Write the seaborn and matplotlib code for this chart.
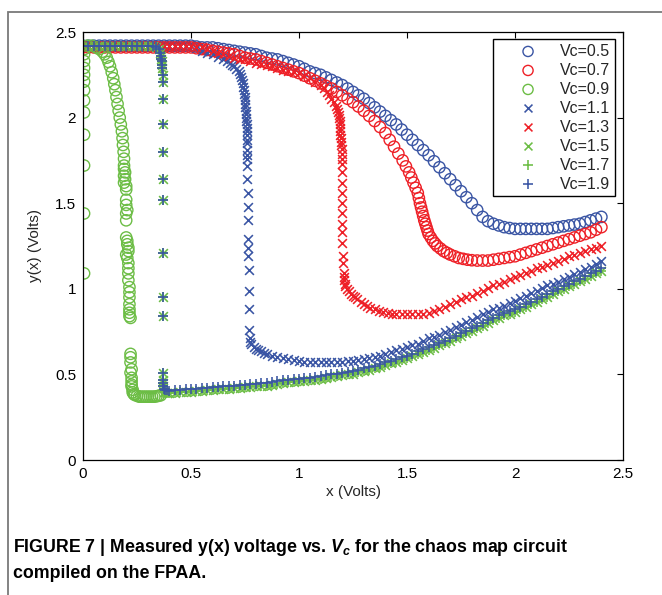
import matplotlib
matplotlib.use("Agg")
import matplotlib.pyplot as plt
from matplotlib import font_manager
from matplotlib.patches import Rectangle
import pandas as pd
import seaborn as sns

sns.set_style("white")

installed = {f.name for f in font_manager.fontManager.ttflist}
CAP_FONT = "Liberation Sans Narrow" if "Liberation Sans Narrow" in installed else "Liberation Sans"

plt.rcParams["font.family"] = ["Liberation Sans", "DejaVu Sans"]
plt.rcParams["mathtext.fontset"] = "custom"
plt.rcParams["mathtext.it"] = f"{CAP_FONT}:italic:bold"
plt.rcParams["mathtext.rm"] = f"{CAP_FONT}:bold"

BLUE = "#3a55a4"
RED = "#ee2027"
GREEN = "#6cbd45"

# ---- measured points, (x, y) in Volts ----
pts_05 = [
    (0.000, 2.42), (0.025, 2.42), (0.050, 2.42), (0.075, 2.42), (0.100, 2.42),
    (0.125, 2.42), (0.150, 2.42), (0.175, 2.42), (0.200, 2.42), (0.225, 2.42),
    (0.250, 2.42), (0.275, 2.42), (0.300, 2.42), (0.325, 2.42), (0.350, 2.42),
    (0.375, 2.42), (0.400, 2.42), (0.425, 2.42), (0.450, 2.42), (0.475, 2.42),
    (0.500, 2.42), (0.525, 2.415), (0.550, 2.41), (0.575, 2.41), (0.600, 2.41),
    (0.625, 2.405), (0.650, 2.40), (0.675, 2.395), (0.700, 2.39), (0.725, 2.385),
    (0.750, 2.38), (0.775, 2.375), (0.800, 2.37), (0.825, 2.36), (0.850, 2.35),
    (0.875, 2.345), (0.900, 2.34), (0.925, 2.33), (0.950, 2.32), (0.975, 2.31),
    (1.000, 2.30), (1.025, 2.285), (1.050, 2.27), (1.075, 2.26), (1.100, 2.25),
    (1.125, 2.235), (1.150, 2.22), (1.175, 2.205), (1.200, 2.19), (1.225, 2.17),
    (1.250, 2.15), (1.275, 2.13), (1.300, 2.11), (1.325, 2.085), (1.350, 2.06),
    (1.375, 2.035), (1.400, 2.01), (1.425, 1.985), (1.450, 1.96), (1.475, 1.93),
    (1.500, 1.90), (1.525, 1.87), (1.550, 1.84), (1.575, 1.81), (1.600, 1.78),
    (1.625, 1.745), (1.650, 1.71), (1.675, 1.675), (1.700, 1.64), (1.725, 1.605),
    (1.750, 1.57), (1.775, 1.535), (1.800, 1.50), (1.825, 1.46), (1.850, 1.42),
    (1.875, 1.395), (1.900, 1.38), (1.925, 1.37), (1.950, 1.36), (1.975, 1.355),
    (2.000, 1.35), (2.025, 1.35), (2.050, 1.35), (2.075, 1.35), (2.100, 1.35),
    (2.125, 1.35), (2.150, 1.35), (2.175, 1.355), (2.200, 1.36), (2.225, 1.365),
    (2.250, 1.37), (2.275, 1.375), (2.300, 1.38), (2.325, 1.39), (2.350, 1.40),
    (2.375, 1.41), (2.400, 1.42),
]

pts_07 = [
    (0.000, 2.41), (0.025, 2.41), (0.050, 2.41), (0.075, 2.41), (0.100, 2.41),
    (0.125, 2.41), (0.150, 2.41), (0.175, 2.41), (0.200, 2.41), (0.225, 2.41),
    (0.250, 2.41), (0.275, 2.41), (0.300, 2.41), (0.325, 2.41), (0.350, 2.41),
    (0.375, 2.41), (0.400, 2.41), (0.425, 2.41), (0.450, 2.41), (0.475, 2.41),
    (0.500, 2.41), (0.525, 2.405), (0.550, 2.40), (0.575, 2.395), (0.600, 2.39),
    (0.625, 2.385), (0.650, 2.38), (0.675, 2.375), (0.700, 2.37), (0.725, 2.36),
    (0.750, 2.35), (0.775, 2.345), (0.800, 2.34), (0.825, 2.33), (0.850, 2.32),
    (0.875, 2.31), (0.900, 2.30), (0.925, 2.29), (0.950, 2.28), (0.975, 2.27),
    (1.000, 2.26), (1.025, 2.245), (1.050, 2.23), (1.075, 2.215), (1.100, 2.20),
    (1.125, 2.185), (1.150, 2.17), (1.175, 2.15), (1.200, 2.13), (1.225, 2.11),
    (1.250, 2.09), (1.275, 2.065), (1.300, 2.04), (1.325, 2.01), (1.350, 1.98),
    (1.375, 1.945), (1.400, 1.91), (1.420, 1.87), (1.440, 1.83), (1.460, 1.79),
    (1.480, 1.75), (1.495, 1.715), (1.510, 1.68), (1.520, 1.65), (1.530, 1.62),
    (1.540, 1.59), (1.550, 1.56), (1.555, 1.53), (1.560, 1.50), (1.565, 1.475),
    (1.570, 1.45), (1.575, 1.425), (1.580, 1.40), (1.585, 1.38), (1.590, 1.36),
    (1.595, 1.34), (1.600, 1.32), (1.610, 1.30), (1.620, 1.28), (1.630, 1.265),
    (1.640, 1.25), (1.655, 1.235), (1.670, 1.22), (1.685, 1.21), (1.700, 1.20),
    (1.720, 1.19), (1.740, 1.18), (1.760, 1.175), (1.780, 1.17), (1.800, 1.167),
    (1.825, 1.165), (1.850, 1.165), (1.875, 1.165), (1.900, 1.17), (1.925, 1.175),
    (1.950, 1.18), (1.975, 1.185), (2.000, 1.19), (2.025, 1.20), (2.050, 1.21),
    (2.075, 1.22), (2.100, 1.23), (2.125, 1.24), (2.150, 1.25), (2.175, 1.26),
    (2.200, 1.27), (2.225, 1.28), (2.250, 1.29), (2.275, 1.30), (2.300, 1.31),
    (2.325, 1.32), (2.350, 1.33), (2.375, 1.345), (2.400, 1.36),
]

pts_09 = [
    # points stacked on the y axis
    (0.005, 2.40), (0.005, 2.37), (0.005, 2.33), (0.005, 2.29), (0.005, 2.25),
    (0.005, 2.21), (0.005, 2.16), (0.005, 2.10), (0.005, 2.03), (0.005, 1.90),
    (0.005, 1.72), (0.005, 1.44), (0.005, 1.09),
    # main branch
    (0.020, 2.42), (0.040, 2.42), (0.060, 2.41), (0.075, 2.40), (0.090, 2.385),
    (0.100, 2.37), (0.110, 2.35), (0.118, 2.325), (0.125, 2.30), (0.133, 2.265),
    (0.140, 2.23), (0.145, 2.195), (0.150, 2.16), (0.155, 2.12), (0.160, 2.08),
    (0.165, 2.04), (0.170, 2.00), (0.175, 1.96), (0.180, 1.92), (0.183, 1.88),
    (0.185, 1.84), (0.188, 1.80), (0.190, 1.76), (0.190, 1.72), (0.190, 1.70),
    (0.195, 1.68), (0.190, 1.66), (0.195, 1.64), (0.190, 1.62), (0.200, 1.60),
    (0.200, 1.58), (0.200, 1.52), (0.200, 1.49), (0.205, 1.46), (0.200, 1.44),
    (0.200, 1.40), (0.200, 1.30), (0.205, 1.28), (0.205, 1.26), (0.210, 1.24),
    (0.210, 1.22), (0.200, 1.20), (0.205, 1.18), (0.210, 1.15), (0.210, 1.12),
    (0.210, 1.09), (0.210, 1.05), (0.215, 1.01), (0.215, 0.98), (0.215, 0.95),
    (0.215, 0.91), (0.215, 0.88), (0.215, 0.86), (0.215, 0.84), (0.220, 0.83),
    (0.220, 0.62), (0.220, 0.60), (0.220, 0.57), (0.225, 0.53), (0.220, 0.51),
    (0.225, 0.48), (0.225, 0.46), (0.225, 0.44), (0.225, 0.43), (0.230, 0.41),
    (0.230, 0.395), (0.235, 0.385), (0.240, 0.38), (0.250, 0.375), (0.260, 0.37),
    (0.270, 0.37), (0.280, 0.37), (0.290, 0.37), (0.300, 0.37), (0.310, 0.37),
    (0.320, 0.37), (0.330, 0.37), (0.340, 0.372), (0.350, 0.375), (0.360, 0.378),
]

pts_11 = [
    (0.000, 2.42), (0.025, 2.42), (0.050, 2.42), (0.075, 2.42), (0.100, 2.42),
    (0.125, 2.42), (0.150, 2.42), (0.175, 2.42), (0.200, 2.42), (0.225, 2.42),
    (0.250, 2.42), (0.275, 2.42), (0.300, 2.42), (0.325, 2.42), (0.350, 2.42),
    (0.375, 2.42), (0.400, 2.42), (0.425, 2.42), (0.450, 2.42), (0.475, 2.42),
    (0.500, 2.42), (0.525, 2.405), (0.550, 2.39), (0.575, 2.38), (0.600, 2.37),
    (0.625, 2.355), (0.650, 2.34), (0.665, 2.33), (0.680, 2.32), (0.690, 2.31),
    (0.700, 2.30), (0.710, 2.285), (0.720, 2.27), (0.725, 2.255), (0.730, 2.24),
    (0.735, 2.22), (0.740, 2.20), (0.742, 2.18), (0.745, 2.16), (0.747, 2.14),
    (0.750, 2.12), (0.750, 2.10), (0.752, 2.08), (0.752, 2.06), (0.755, 2.04),
    (0.755, 2.02), (0.755, 2.00), (0.755, 1.98), (0.757, 1.96), (0.757, 1.94),
    (0.760, 1.92), (0.760, 1.90), (0.760, 1.87), (0.760, 1.85), (0.760, 1.81),
    (0.760, 1.78), (0.760, 1.76), (0.760, 1.72), (0.760, 1.64), (0.762, 1.56),
    (0.762, 1.48), (0.765, 1.40), (0.765, 1.29), (0.765, 1.24), (0.765, 1.19),
    (0.770, 1.11), (0.770, 0.99), (0.770, 0.88), (0.770, 0.76), (0.772, 0.71),
    (0.775, 0.69), (0.780, 0.675), (0.790, 0.66), (0.800, 0.65), (0.810, 0.645),
    (0.825, 0.635), (0.840, 0.627), (0.850, 0.62), (0.875, 0.61), (0.900, 0.60),
    (0.925, 0.595), (0.950, 0.59), (0.975, 0.585), (1.000, 0.58), (1.025, 0.575),
    (1.050, 0.57), (1.075, 0.57), (1.100, 0.57), (1.125, 0.57), (1.150, 0.57),
    (1.175, 0.572), (1.200, 0.575), (1.225, 0.578), (1.250, 0.58), (1.275, 0.585),
    (1.300, 0.59), (1.325, 0.595), (1.350, 0.60), (1.375, 0.61), (1.400, 0.62),
    (1.425, 0.63), (1.450, 0.64), (1.475, 0.65), (1.500, 0.66), (1.525, 0.67),
    (1.550, 0.68), (1.575, 0.695), (1.600, 0.71), (1.625, 0.72), (1.650, 0.73),
    (1.675, 0.745), (1.700, 0.76), (1.725, 0.775), (1.750, 0.79), (1.775, 0.805),
    (1.800, 0.82), (1.825, 0.835), (1.850, 0.85), (1.875, 0.865), (1.900, 0.88),
    (1.925, 0.89), (1.950, 0.90), (1.975, 0.915), (2.000, 0.93), (2.025, 0.945),
    (2.050, 0.96), (2.075, 0.975), (2.100, 0.99), (2.125, 1.005), (2.150, 1.02),
    (2.175, 1.03), (2.200, 1.04), (2.225, 1.055), (2.250, 1.07), (2.275, 1.085),
    (2.300, 1.10), (2.325, 1.115), (2.350, 1.13), (2.375, 1.145), (2.400, 1.16),
]

pts_13 = [
    (0.000, 2.42), (0.025, 2.42), (0.050, 2.42), (0.075, 2.42), (0.100, 2.42),
    (0.125, 2.42), (0.150, 2.42), (0.175, 2.42), (0.200, 2.42), (0.225, 2.42),
    (0.250, 2.42), (0.275, 2.42), (0.300, 2.42), (0.325, 2.42), (0.350, 2.42),
    (0.375, 2.42), (0.400, 2.42), (0.425, 2.42), (0.450, 2.42), (0.475, 2.42),
    (0.500, 2.42), (0.525, 2.415), (0.550, 2.41), (0.575, 2.40), (0.600, 2.39),
    (0.625, 2.38), (0.650, 2.37), (0.675, 2.36), (0.700, 2.35), (0.725, 2.345),
    (0.750, 2.34), (0.775, 2.33), (0.800, 2.32), (0.825, 2.315), (0.850, 2.31),
    (0.875, 2.30), (0.900, 2.29), (0.925, 2.28), (0.950, 2.27), (0.975, 2.265),
    (1.000, 2.26), (1.025, 2.245), (1.050, 2.23), (1.075, 2.21), (1.100, 2.19),
    (1.115, 2.17), (1.130, 2.15), (1.140, 2.13), (1.150, 2.11), (1.160, 2.09),
    (1.170, 2.07), (1.175, 2.05), (1.180, 2.03), (1.183, 2.015), (1.185, 2.00),
    (1.188, 1.98), (1.190, 1.96), (1.190, 1.94), (1.190, 1.92), (1.192, 1.90),
    (1.195, 1.88), (1.195, 1.86), (1.195, 1.84), (1.197, 1.815), (1.200, 1.79),
    (1.200, 1.76), (1.200, 1.73), (1.200, 1.68), (1.200, 1.62), (1.200, 1.56),
    (1.200, 1.50), (1.200, 1.44), (1.200, 1.38), (1.200, 1.33), (1.200, 1.27),
    (1.205, 1.19), (1.205, 1.15), (1.210, 1.09), (1.210, 1.07), (1.210, 1.05),
    (1.212, 1.03), (1.215, 1.015), (1.220, 1.00), (1.230, 0.985), (1.240, 0.97),
    (1.250, 0.96), (1.260, 0.95), (1.270, 0.94), (1.285, 0.925), (1.300, 0.91),
    (1.315, 0.90), (1.330, 0.89), (1.350, 0.88), (1.370, 0.87), (1.390, 0.865),
    (1.410, 0.86), (1.430, 0.855), (1.450, 0.85), (1.475, 0.85), (1.500, 0.85),
    (1.525, 0.85), (1.550, 0.85), (1.575, 0.855), (1.600, 0.86), (1.625, 0.87),
    (1.650, 0.88), (1.675, 0.895), (1.700, 0.91), (1.725, 0.925), (1.750, 0.94),
    (1.775, 0.95), (1.800, 0.96), (1.825, 0.975), (1.850, 0.99), (1.875, 1.005),
    (1.900, 1.02), (1.925, 1.03), (1.950, 1.04), (1.975, 1.055), (2.000, 1.07),
    (2.025, 1.08), (2.050, 1.09), (2.075, 1.105), (2.100, 1.12), (2.125, 1.13),
    (2.150, 1.14), (2.175, 1.15), (2.200, 1.16), (2.225, 1.175), (2.250, 1.19),
    (2.275, 1.20), (2.300, 1.21), (2.325, 1.22), (2.350, 1.23), (2.375, 1.24),
    (2.400, 1.25),
]

# Vc = 1.5, 1.7 and 1.9 share the top run and the jump at x ~ 0.37
pts_jump = [
    (0.000, 2.42), (0.025, 2.42), (0.050, 2.42), (0.075, 2.42), (0.100, 2.42),
    (0.125, 2.42), (0.150, 2.42), (0.175, 2.42), (0.200, 2.42), (0.225, 2.42),
    (0.250, 2.42), (0.275, 2.42), (0.300, 2.42), (0.325, 2.42), (0.340, 2.415),
    (0.350, 2.40), (0.355, 2.38), (0.360, 2.36), (0.363, 2.345), (0.365, 2.33),
    (0.365, 2.31), (0.365, 2.29), (0.370, 2.25), (0.370, 2.21), (0.370, 2.11),
    (0.370, 1.96), (0.370, 1.80), (0.370, 1.64), (0.370, 1.52), (0.370, 1.21),
    (0.370, 0.95), (0.370, 0.84), (0.370, 0.51), (0.370, 0.47), (0.370, 0.45),
    (0.370, 0.43),
]

# lower branch, Vc = 1.9 (blue, drawn on top)
pts_low_19 = [
    (0.375, 0.415), (0.380, 0.41), (0.390, 0.407), (0.400, 0.405), (0.425, 0.407),
    (0.450, 0.41), (0.475, 0.412), (0.500, 0.415), (0.525, 0.417), (0.550, 0.42),
    (0.575, 0.422), (0.600, 0.425), (0.625, 0.427), (0.650, 0.43), (0.675, 0.432),
    (0.700, 0.435), (0.725, 0.437), (0.750, 0.44), (0.775, 0.442), (0.800, 0.445),
    (0.825, 0.447), (0.850, 0.45), (0.875, 0.455), (0.900, 0.46), (0.925, 0.465),
    (0.950, 0.47), (0.975, 0.472), (1.000, 0.475), (1.025, 0.477), (1.050, 0.48),
    (1.075, 0.485), (1.100, 0.49), (1.125, 0.495), (1.150, 0.50), (1.175, 0.505),
    (1.200, 0.51), (1.225, 0.515), (1.250, 0.52), (1.275, 0.527), (1.300, 0.535),
    (1.325, 0.542), (1.350, 0.55), (1.375, 0.56), (1.400, 0.57), (1.425, 0.58),
    (1.450, 0.59), (1.475, 0.60), (1.500, 0.61), (1.525, 0.622), (1.550, 0.635),
    (1.575, 0.647), (1.600, 0.66), (1.625, 0.672), (1.650, 0.685), (1.675, 0.697),
    (1.700, 0.71), (1.725, 0.725), (1.750, 0.74), (1.775, 0.755), (1.800, 0.77),
    (1.825, 0.785), (1.850, 0.80), (1.875, 0.815), (1.900, 0.83), (1.925, 0.845),
    (1.950, 0.86), (1.975, 0.87), (2.000, 0.88), (2.025, 0.895), (2.050, 0.91),
    (2.075, 0.925), (2.100, 0.94), (2.125, 0.955), (2.150, 0.97), (2.175, 0.985),
    (2.200, 1.00), (2.225, 1.015), (2.250, 1.03), (2.275, 1.045), (2.300, 1.06),
    (2.325, 1.075), (2.350, 1.09), (2.375, 1.105), (2.400, 1.12),
]

# lower branch, Vc = 1.5 / 1.7 (green edge just under the blue)
pts_low_15 = [
    (0.375, 0.40), (0.380, 0.395), (0.390, 0.392), (0.400, 0.39), (0.425, 0.392),
    (0.450, 0.395), (0.475, 0.397), (0.500, 0.40), (0.525, 0.402), (0.550, 0.405),
    (0.575, 0.407), (0.600, 0.41), (0.625, 0.412), (0.650, 0.415), (0.675, 0.417),
    (0.700, 0.42), (0.725, 0.422), (0.750, 0.425), (0.775, 0.427), (0.800, 0.43),
    (0.825, 0.432), (0.850, 0.435), (0.875, 0.44), (0.900, 0.445), (0.925, 0.45),
    (0.950, 0.455), (0.975, 0.457), (1.000, 0.46), (1.025, 0.462), (1.050, 0.465),
    (1.075, 0.47), (1.100, 0.475), (1.125, 0.48), (1.150, 0.485), (1.175, 0.49),
    (1.200, 0.495), (1.225, 0.50), (1.250, 0.505), (1.275, 0.512), (1.300, 0.52),
    (1.325, 0.527), (1.350, 0.535), (1.375, 0.545), (1.400, 0.555), (1.425, 0.565),
    (1.450, 0.575), (1.475, 0.585), (1.500, 0.595), (1.525, 0.607), (1.550, 0.62),
    (1.575, 0.632), (1.600, 0.645), (1.625, 0.657), (1.650, 0.67), (1.675, 0.682),
    (1.700, 0.695), (1.725, 0.71), (1.750, 0.725), (1.775, 0.74), (1.800, 0.755),
    (1.825, 0.77), (1.850, 0.785), (1.875, 0.80), (1.900, 0.815), (1.925, 0.83),
    (1.950, 0.845), (1.975, 0.855), (2.000, 0.865), (2.025, 0.88), (2.050, 0.895),
    (2.075, 0.91), (2.100, 0.925), (2.125, 0.94), (2.150, 0.955), (2.175, 0.97),
    (2.200, 0.985), (2.225, 1.00), (2.250, 1.015), (2.275, 1.03), (2.300, 1.045),
    (2.325, 1.06), (2.350, 1.075), (2.375, 1.09), (2.400, 1.105),
]

labels = ["Vc=0.5", "Vc=0.7", "Vc=0.9", "Vc=1.1", "Vc=1.3", "Vc=1.5", "Vc=1.7", "Vc=1.9"]
markers = ["o", "o", "o", "x", "x", "x", "+", "+"]
colors = [BLUE, RED, GREEN, BLUE, RED, GREEN, GREEN, BLUE]
tick_vals = [0, 0.5, 1, 1.5, 2, 2.5]
tick_text = ["0", "0.5", "1", "1.5", "2", "2.5"]

point_sets = [
    pts_05, pts_07, pts_09, pts_11, pts_13,
    pts_jump + pts_low_15, pts_jump + pts_low_15, pts_jump + pts_low_19,
]

fig = plt.figure(figsize=(6.62, 5.95), dpi=100)
ax = fig.add_axes([83 / 662, 1 - 460 / 595, 540 / 662, 428 / 595])

for label, pts, marker, color in zip(labels, point_sets, markers, colors):
    df = pd.DataFrame(pts, columns=["x", "y"])
    if marker == "o":
        sns.scatterplot(data=df, x="x", y="y", ax=ax, marker="o", s=66,
                        color=color, facecolor="none", edgecolor=color,
                        linewidth=1.0, label=label)
    elif marker == "x":
        sns.scatterplot(data=df, x="x", y="y", ax=ax, marker="x", s=40,
                        color=color, linewidth=1.15, label=label)
    else:
        sns.scatterplot(data=df, x="x", y="y", ax=ax, marker="+", s=55,
                        color=color, linewidth=1.15, label=label)

ax.set_xlim(0, 2.5)
ax.set_ylim(0, 2.5)
ax.set_xticks(tick_vals)
ax.set_xticklabels(tick_text)
ax.set_yticks(tick_vals)
ax.set_yticklabels(tick_text)
ax.tick_params(direction="in", length=4, width=0.8, top=True, right=True,
               labelsize=11, colors="black", pad=5)
for sp in ax.spines.values():
    sp.set_color("black")
    sp.set_linewidth(0.9)
    sp.set_visible(True)

ax.set_xlabel("x (Volts)", fontsize=11, labelpad=3)
ax.set_ylabel("y(x) (Volts)", fontsize=11, labelpad=9)

leg = ax.legend(loc="upper right", bbox_to_anchor=(0.985, 0.984),
                borderaxespad=0, fancybox=False, edgecolor="black",
                framealpha=1, fontsize=11.5, handlelength=3.8,
                handletextpad=0.1, labelspacing=0.25, borderpad=0.3,
                markerscale=0.9)
leg.get_frame().set_linewidth(1.0)

# page frame around the figure
fig.add_artist(Rectangle((8 / 662, -0.05), 1.2, 1 - 12 / 595 + 0.05,
                         transform=fig.transFigure, fill=False,
                         edgecolor="#7a7a7a", linewidth=1.3))

fig.text(13 / 662, 1 - 548 / 595,
         "FIGURE 7 | Measured y(x) voltage vs. $V_c$ for the chaos map circuit",
         family=[CAP_FONT, "DejaVu Sans"], fontweight="bold", fontsize=12.8,
         color="black", va="center", ha="left")
fig.text(13 / 662, 1 - 573 / 595, "compiled on the FPAA.",
         family=[CAP_FONT, "DejaVu Sans"], fontweight="bold", fontsize=12.8,
         color="black", va="center", ha="left")

fig.savefig("out.png", dpi=100)
